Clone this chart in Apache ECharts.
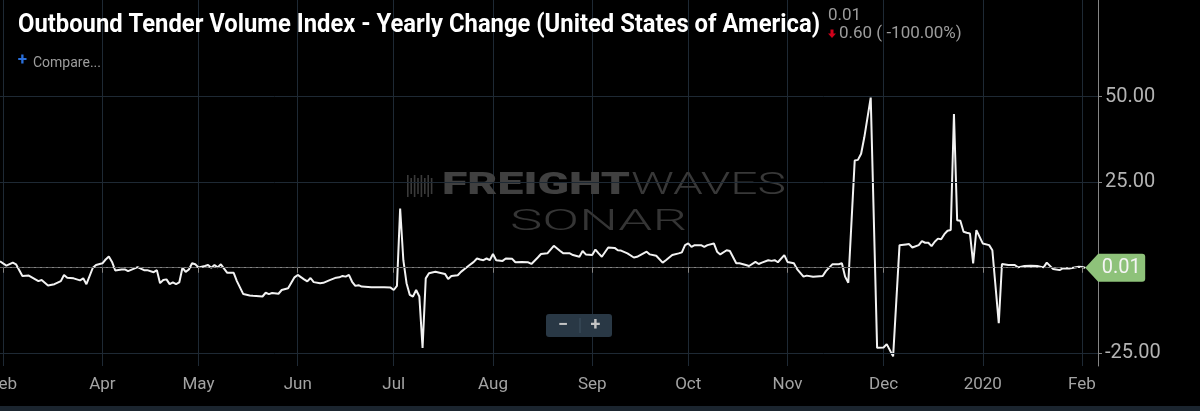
<!DOCTYPE html>
<html><head><meta charset="utf-8">
<script src="https://cdn.jsdelivr.net/npm/echarts@6/dist/echarts.min.js"></script>
<style>html,body{margin:0;padding:0;background:#000;overflow:hidden;}#c{width:1200px;height:411px;}</style>
</head><body><div id="c"></div>
<script>
// ---------- data ----------
const axisStart = '2019-02-28';
const axisEnd = '2020-02-06';
const sampleDates = [
'2019-02-28','2019-03-02','2019-03-04','2019-03-05','2019-03-07','2019-03-09','2019-03-12','2019-03-13','2019-03-15','2019-03-17',
'2019-03-19','2019-03-20','2019-03-21','2019-03-23','2019-03-25','2019-03-26','2019-03-27','2019-03-29','2019-03-30','2019-04-01',
'2019-04-02','2019-04-03','2019-04-04','2019-04-05','2019-04-07','2019-04-08','2019-04-09','2019-04-12','2019-04-14','2019-04-15',
'2019-04-17','2019-04-18','2019-04-19','2019-04-20','2019-04-21','2019-04-22','2019-04-23','2019-04-24','2019-04-25','2019-04-26',
'2019-04-27','2019-04-28','2019-04-29','2019-04-30','2019-05-01','2019-05-03','2019-05-04','2019-05-05','2019-05-06','2019-05-07',
'2019-05-08','2019-05-10','2019-05-12','2019-05-13','2019-05-15','2019-05-17','2019-05-18','2019-05-21','2019-05-22','2019-05-23',
'2019-05-24','2019-05-26','2019-05-27','2019-05-29','2019-05-30','2019-05-31','2019-06-01','2019-06-03','2019-06-04','2019-06-05',
'2019-06-06','2019-06-08','2019-06-09','2019-06-11','2019-06-13','2019-06-14','2019-06-15','2019-06-16','2019-06-17','2019-06-18',
'2019-06-19','2019-06-20','2019-06-21','2019-06-24','2019-06-26','2019-06-28','2019-06-30','2019-07-01','2019-07-02','2019-07-03',
'2019-07-04','2019-07-05','2019-07-06','2019-07-07','2019-07-08','2019-07-09','2019-07-10','2019-07-11','2019-07-12','2019-07-14',
'2019-07-16','2019-07-17','2019-07-18','2019-07-19','2019-07-21','2019-07-22','2019-07-24','2019-07-26','2019-07-27','2019-07-28',
'2019-07-29','2019-07-30','2019-07-31','2019-08-01','2019-08-02','2019-08-04','2019-08-05','2019-08-07','2019-08-08','2019-08-10',
'2019-08-12','2019-08-13','2019-08-15','2019-08-16','2019-08-18','2019-08-19','2019-08-20','2019-08-22','2019-08-23','2019-08-25',
'2019-08-26','2019-08-28','2019-08-29','2019-08-30','2019-09-01','2019-09-02','2019-09-03','2019-09-04','2019-09-06','2019-09-08',
'2019-09-09','2019-09-10','2019-09-12','2019-09-14','2019-09-15','2019-09-17','2019-09-18','2019-09-19','2019-09-21','2019-09-23',
'2019-09-24','2019-09-26','2019-09-28','2019-09-29','2019-09-30','2019-10-01','2019-10-02','2019-10-03','2019-10-05','2019-10-06',
'2019-10-07','2019-10-09','2019-10-10','2019-10-11','2019-10-13','2019-10-14','2019-10-16','2019-10-17','2019-10-19','2019-10-20',
'2019-10-22','2019-10-23','2019-10-24','2019-10-26','2019-10-27','2019-10-28','2019-10-29','2019-10-31','2019-11-01','2019-11-03',
'2019-11-04','2019-11-06','2019-11-07','2019-11-09','2019-11-12','2019-11-13','2019-11-15','2019-11-17','2019-11-18','2019-11-19',
'2019-11-20','2019-11-22','2019-11-23','2019-11-24','2019-11-25','2019-11-27','2019-11-29','2019-12-01','2019-12-02','2019-12-04',
'2019-12-06','2019-12-08','2019-12-09','2019-12-10','2019-12-12','2019-12-13','2019-12-14','2019-12-15','2019-12-16','2019-12-17',
'2019-12-18','2019-12-19','2019-12-20','2019-12-21','2019-12-22','2019-12-23','2019-12-24','2019-12-25','2019-12-26','2019-12-27',
'2019-12-28','2019-12-29','2019-12-30','2020-01-01','2020-01-03','2020-01-04','2020-01-06','2020-01-07','2020-01-09','2020-01-11',
'2020-01-12','2020-01-14','2020-01-16','2020-01-18','2020-01-20','2020-01-21','2020-01-23','2020-01-25','2020-01-26','2020-01-28',
'2020-01-31','2020-02-01','2020-02-02'
];
const sampleValues = [
1.9,0.6,1.5,1.0,-2.4,-2.3,-3.9,-3.6,-5.2,-4.8,
-3.9,-2.1,-2.9,-3.1,-3.7,-3.1,-4.8,0.0,0.8,1.3,
2.4,3.3,1.7,-0.8,-0.5,-0.5,-1.0,0.2,-0.7,-0.7,
-1.3,-0.7,-4.5,-3.6,-3.4,-4.8,-4.3,-4.8,-4.3,0.0,
-1.2,-0.5,1.3,1.0,0.1,0.5,0.8,0.0,0.8,0.1,
1.0,-1.5,-1.5,-3.9,-7.7,-8.1,-8.2,-8.4,-7.3,-7.7,
-7.4,-7.6,-6.5,-6.0,-4.4,-2.8,-2.1,-3.4,-4.0,-3.0,
-4.2,-4.5,-4.4,-3.6,-2.9,-2.8,-2.4,-2.6,-2.1,-4.1,
-5.3,-5.1,-5.5,-5.7,-5.7,-5.7,-5.8,-6.5,-5.3,17.3,
2.2,-4.5,-7.9,-8.4,-6.5,-8.4,-23.4,-3.1,-1.6,-1.2,
-1.6,-1.8,-3.3,-2.4,-2.2,-1.2,0.3,1.7,2.7,2.4,
2.2,2.7,2.2,4.0,2.2,2.0,2.7,2.6,1.6,1.7,
1.6,1.1,3.0,4.0,4.2,5.3,6.4,4.9,4.2,4.2,
3.7,3.2,4.9,3.9,3.7,5.3,4.2,3.2,5.9,5.8,
5.1,5.0,4.2,3.0,3.2,4.2,4.7,3.9,3.5,1.5,
2.2,3.7,4.2,4.5,6.6,7.1,6.1,6.6,6.6,6.1,
6.6,7.1,4.7,3.9,5.1,4.9,1.3,1.3,0.8,0.5,
1.7,1.1,1.5,2.2,2.0,2.2,1.6,3.7,1.7,1.3,
-0.4,-2.6,-2.3,-2.6,-2.4,-1.0,1.0,1.0,1.3,-2.6,
-4.4,31.3,31.5,33.3,38.1,49.7,-23.4,-23.3,-22.3,-25.9,
6.6,6.8,6.9,5.9,6.6,7.8,7.3,7.3,6.3,7.6,
8.5,8.3,9.8,10.8,11.0,44.9,13.9,13.7,10.5,10.2,
10.0,1.3,11.0,7.1,6.6,5.1,-16.2,1.1,0.8,0.8,
0.1,0.5,0.6,0.5,0.1,1.5,-0.4,-0.7,-0.2,-0.2,
0.3,0.2,0.01
];
const tickDates = ['2019-03-01','2019-04-01','2019-05-01','2019-06-01','2019-07-01','2019-08-01','2019-09-01','2019-10-01','2019-11-01','2019-12-01','2020-01-01','2020-02-01'];
const tickLabels = ['Feb','Apr','May','Jun','Jul','Aug','Sep','Oct','Nov','Dec','2020','Feb'];
const yTickValues = [-25, 0, 25, 50];
const yLabelValues = [-25, 25, 50];
const yGridValues = [-25, 25, 50];
const yMin = -28.7, yMax = 78.2;
const lastValue = 0.01;
const titleText = 'Outbound Tender Volume Index - Yearly Change (United States of America)';
const headerValue = '0.01';
const headerChange = '0.60 ( -100.00%)';

// ---------- build ----------
function fmt(t){ return new Date(t).toISOString().slice(0,10); }
const days = [];
for (let t = Date.parse(axisStart + 'T00:00:00Z'); t <= Date.parse(axisEnd + 'T00:00:00Z'); t += 86400000) days.push(fmt(t));
const valMap = new Map(sampleDates.map((d,i)=>[d, sampleValues[i]]));
const seriesData = days.map(d => valMap.has(d) ? valMap.get(d) : null);
const labelMap = new Map(tickDates.map((d,i)=>[d, tickLabels[i]]));
const isTick = (idx, val) => labelMap.has(val);

function fitScale(text, font, width){
  const c = document.createElement('canvas').getContext('2d');
  c.font = font;
  return width / c.measureText(text).width;
}
const titleFont = 'bold 26px Roboto';
const titleScale = fitScale(titleText, titleFont, 802);
const fwFont1 = '900 31px Roboto';
const fwFont2 = '300 31px Roboto';
const snFont = '300 30px Roboto';
const s1 = fitScale('FREIGHT', fwFont1, 188);
const s2 = fitScale('WAVES', fwFont2, 155);
const s3 = fitScale('SONAR', snFont, 177);

const gridColor = '#1e2934';
const axisColor = '#858585';

const iconBars = [];
for (let i = 0; i < 8; i++) {
  iconBars.push({type:'rect', silent:true, z:1, shape:{x:407 + i*3.4, y:175 + (i%2)*3, width:1.6, height:22 - (i%2)*6}, style:{fill:'#3a3a3a'}});
}

const chart = echarts.init(document.getElementById('c'), null, {renderer:'canvas'});
chart.setOption({
  backgroundColor: '#000000',
  animation: false,
  grid: {left: 0, right: 102, top: 0, bottom: 45, containLabel: false, outerBoundsMode: 'none'},
  xAxis: {
    type: 'category', data: days, boundaryGap: false,
    axisLine: {show: true, lineStyle: {color: axisColor, width: 1}},
    axisTick: {show: true, interval: isTick, length: 5, lineStyle: {color: axisColor}},
    axisLabel: {show: true, interval: isTick, formatter: v => labelMap.get(v) || '', color: '#a3a3a3', fontSize: 17, fontFamily: 'Roboto', margin: 10},
    splitLine: {show: true, interval: isTick, lineStyle: {color: gridColor, width: 1}}
  },
  yAxis: {
    type: 'value', position: 'right', min: yMin, max: yMax,
    axisLine: {show: true, lineStyle: {color: axisColor, width: 1}},
    axisTick: {show: true, customValues: yTickValues, length: 4, lineStyle: {color: axisColor}},
    axisLabel: {show: true, customValues: yLabelValues, formatter: v => v.toFixed(2), color: '#b3b3b3', fontSize: 20, fontFamily: 'Roboto', margin: 7},
    splitLine: {show: false}
  },
  series: [
    {
      type: 'line', data: [], silent: true, z: 1,
      markLine: {silent: true, symbol: 'none', animation: false, label: {show: false},
        lineStyle: {color: gridColor, type: 'solid', width: 1},
        data: yGridValues.map(v => ({yAxis: v}))}
    },
    {
      type: 'line', data: seriesData, connectNulls: true, showSymbol: false, symbol: 'none', z: 3,
      lineStyle: {color: '#f2f2f2', width: 2}, silent: true,
      markLine: {silent: true, symbol: 'none', animation: false, label: {show: false},
        lineStyle: {color: '#5c5c5c', type: 'dashed', dashOffset: 0, width: 1},
        emphasis: {disabled: true},
        data: [{yAxis: lastValue}]},
      markPoint: {silent: true, animation: false,
        symbol: 'path://M0,14L13,0L57,0Q60,0,60,3L60,25Q60,28,57,28L13,28Z',
        symbolSize: [60, 28], symbolKeepAspect: false, symbolOffset: ['50%', 0],
        itemStyle: {color: '#8ec27a'},
        label: {show: true, position: 'inside', offset: [6, 0], color: '#f4f4f4', fontSize: 20, fontFamily: 'Roboto', formatter: () => lastValue.toFixed(2)},
        data: [{coord: [sampleDates[sampleDates.length - 1], lastValue]}]}
    }
  ],
  graphic: [
    {type:'text', silent:true, z:10, x:18, y:25, scaleX:titleScale, style:{text:titleText, font:titleFont, fill:'#ffffff', align:'left', verticalAlign:'middle'}},
    {type:'text', silent:true, z:10, x:828, y:16, style:{text:headerValue, font:'17px Roboto', fill:'#9c9c9c', align:'left', verticalAlign:'middle'}},
    {type:'polygon', silent:true, z:10, shape:{points:[[830.5,29.5],[833.5,29.5],[833.5,33.5],[836,33.5],[832,38],[828,33.5],[830.5,33.5]]}, style:{fill:'#d0021b'}},
    {type:'text', silent:true, z:10, x:839, y:34, style:{text:headerChange, font:'17px Roboto', fill:'#9c9c9c', align:'left', verticalAlign:'middle'}},
    {type:'text', silent:true, z:10, x:22.5, y:60.5, style:{text:'+', font:'bold 17px Roboto', fill:'#2a6fdb', align:'center', verticalAlign:'middle'}},
    {type:'text', silent:true, z:10, x:33, y:63, style:{text:'Compare...', font:'14px Roboto', fill:'#9d9d9d', align:'left', verticalAlign:'middle'}},
    ...iconBars,
    {type:'text', silent:true, z:1, x:442, y:186, scaleX:s1, style:{text:'FREIGHT', font:fwFont1, fill:'#404040', align:'left', verticalAlign:'middle'}},
    {type:'text', silent:true, z:1, x:631, y:186, scaleX:s2, style:{text:'WAVES', font:fwFont2, fill:'#383838', align:'left', verticalAlign:'middle'}},
    {type:'text', silent:true, z:1, x:510, y:222.5, scaleX:s3, style:{text:'SONAR', font:snFont, fill:'#353535', align:'left', verticalAlign:'middle'}},
    {type:'rect', silent:true, z:10, shape:{x:546, y:314, width:66, height:23, r:3}, style:{fill:'#293845'}},
    {type:'rect', silent:true, z:11, shape:{x:579.5, y:318, width:1, height:15}, style:{fill:'#3e5060'}},
    {type:'text', silent:true, z:11, x:563, y:325.5, style:{text:'−', font:'bold 18px Roboto', fill:'#c4c4c4', align:'center', verticalAlign:'middle'}},
    {type:'text', silent:true, z:11, x:595.5, y:325.5, style:{text:'+', font:'bold 18px Roboto', fill:'#c4c4c4', align:'center', verticalAlign:'middle'}},
    {type:'rect', silent:true, z:10, shape:{x:0, y:406, width:1200, height:5}, style:{fill:'#1b252f'}}
  ]
});
</script>
</body></html>
